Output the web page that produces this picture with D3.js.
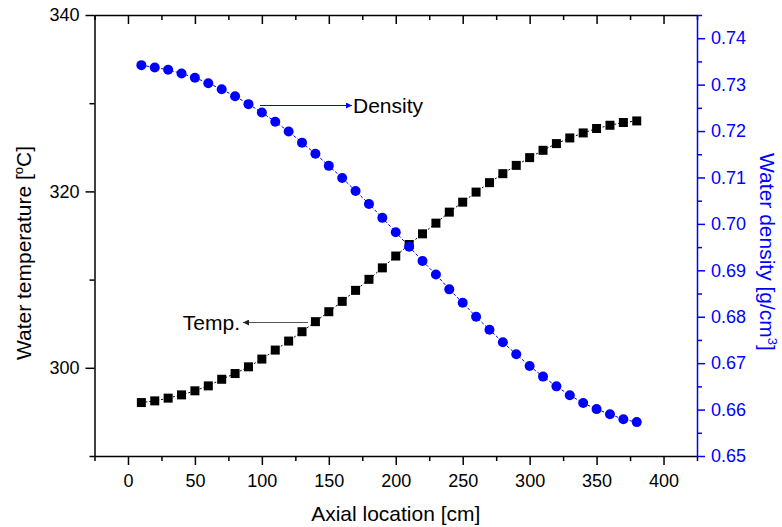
<!DOCTYPE html>
<html>
<head>
<meta charset="utf-8">
<script src="https://cdn.jsdelivr.net/npm/d3@7/dist/d3.min.js"></script>
<style>
  body { margin: 0; background: #fff; }
  svg text { font-family: "Liberation Sans", Arial, sans-serif; }
</style>
</head>
<body>
<div id="chart"></div>
<script>
// axial positions [cm]
var location_cm = [10, 20, 30, 40, 50, 60, 70, 80, 90, 100,
  110, 120, 130, 140, 150, 160, 170, 180, 190, 200,
  210, 220, 230, 240, 250, 260, 270, 280, 290, 300,
  310, 320, 330, 340, 350, 360, 370, 380];

// water temperature [oC]
var temperature = [296.06, 296.25, 296.56, 296.93, 297.39, 297.95, 298.70, 299.35, 300.11, 300.99,
  302.01, 303.03, 304.09, 305.23, 306.36, 307.53, 308.78, 310.03, 311.33, 312.67,
  313.98, 315.19, 316.40, 317.65, 318.78, 319.92, 320.99, 322.01, 322.95, 323.83,
  324.66, 325.42, 326.06, 326.63, 327.13, 327.50, 327.81, 327.99];

// water density [g/cm3]
var density = [0.7342, 0.7337, 0.7332, 0.7324, 0.7315, 0.7303, 0.7290, 0.7275, 0.7258, 0.7240,
  0.7220, 0.7199, 0.7175, 0.7151, 0.7125, 0.7099, 0.7071, 0.7043, 0.7013, 0.6982,
  0.6951, 0.6920, 0.6891, 0.6859, 0.6830, 0.6800, 0.6772, 0.6745, 0.6719, 0.6694,
  0.6671, 0.6650, 0.6631, 0.6614, 0.6601, 0.6590, 0.6579, 0.6573];

var xMajor = [0, 50, 100, 150, 200, 250, 300, 350, 400];
var xMinor = [-25, 25, 75, 125, 175, 225, 275, 325, 375, 425];
var tMajor = [300, 320, 340];
var tMinor = [290, 310, 330];
var dMajor = [0.65, 0.66, 0.67, 0.68, 0.69, 0.70, 0.71, 0.72, 0.73, 0.74];
var dMinor = [0.655, 0.665, 0.675, 0.685, 0.695, 0.705, 0.715, 0.725, 0.735, 0.745];

var W = 782, H = 527;
var plotL = 94.5, plotR = 697, plotT = 15, plotB = 456;
var blue = "#0000ff";

var svg = d3.select("#chart").append("svg")
  .attr("width", W).attr("height", H);

var x = d3.scaleLinear().domain([-25, 425]).range([plotL, plotR]);
var yT = d3.scaleLinear().domain([290, 340]).range([plotB, plotT]);
var yD = d3.scaleLinear().domain([0.65, 0.745]).range([plotB, plotT]);

function styleAxis(g, color) {
  g.selectAll("path, line").attr("stroke", color).attr("stroke-width", 1.5);
  g.selectAll("text").attr("fill", color).attr("font-size", 18);
}

// bottom axis
var gb = svg.append("g").attr("transform", "translate(0," + plotB + ")");
gb.call(d3.axisBottom(x).tickValues(xMajor).tickSizeInner(9).tickSizeOuter(0).tickPadding(9));
gb.append("g").call(d3.axisBottom(x).tickValues(xMinor).tickSize(5).tickFormat(""))
  .select(".domain").remove();
styleAxis(gb, "#000");

// top axis (ticks point into the plot)
var gt = svg.append("g").attr("transform", "translate(0," + plotT + ")");
gt.call(d3.axisTop(x).tickValues(xMajor).tickSizeInner(-9).tickSizeOuter(0).tickFormat(""));
gt.append("g").call(d3.axisTop(x).tickValues(xMinor).tickSize(-5).tickFormat(""))
  .select(".domain").remove();
styleAxis(gt, "#000");

// left axis
var gl = svg.append("g").attr("transform", "translate(" + plotL + ",0)");
gl.call(d3.axisLeft(yT).tickValues(tMajor).tickSizeInner(9).tickSizeOuter(0).tickPadding(6));
gl.append("g").call(d3.axisLeft(yT).tickValues(tMinor).tickSize(5).tickFormat(""))
  .select(".domain").remove();
styleAxis(gl, "#000");

// right axis
var gr = svg.append("g").attr("transform", "translate(" + plotR + ",0)");
gr.call(d3.axisRight(yD).tickValues(dMajor).tickSizeInner(8).tickSizeOuter(0).tickPadding(6)
  .tickFormat(d3.format(".2f")));
gr.append("g").call(d3.axisRight(yD).tickValues(dMinor).tickSize(5).tickFormat(""))
  .select(".domain").remove();
styleAxis(gr, blue);

// series lines
var tempLine = d3.line().x(function(d, i) { return x(location_cm[i]); })
  .y(function(d) { return yT(d); });
var densLine = d3.line().x(function(d, i) { return x(location_cm[i]); })
  .y(function(d) { return yD(d); });

svg.append("path").attr("d", tempLine(temperature))
  .attr("fill", "none").attr("stroke", "#000").attr("stroke-width", 1)
  .attr("stroke-dasharray", "2,2");
svg.append("path").attr("d", densLine(density))
  .attr("fill", "none").attr("stroke", blue).attr("stroke-width", 1)
  .attr("stroke-dasharray", "3,2");

// markers
var sq = 9;
svg.append("g").selectAll("rect")
  .data(temperature)
  .enter()
  .append("rect")
  .attr("x", function(d, i) { return x(location_cm[i]) - sq / 2; })
  .attr("y", function(d) { return yT(d) - sq / 2; })
  .attr("width", sq).attr("height", sq)
  .attr("fill", "#000");

svg.append("g").selectAll("circle")
  .data(density)
  .enter()
  .append("circle")
  .attr("cx", function(d, i) { return x(location_cm[i]); })
  .attr("cy", function(d) { return yD(d); })
  .attr("r", 5)
  .attr("fill", blue);

// annotations with arrows
var defs = svg.append("defs");
function marker(id, color) {
  defs.append("marker").attr("id", id)
    .attr("viewBox", "0 0 10 10").attr("refX", 10).attr("refY", 5)
    .attr("markerWidth", 10).attr("markerHeight", 6).attr("orient", "auto")
    .attr("markerUnits", "userSpaceOnUse")
    .append("path").attr("d", "M0,0 L10,5 L0,10 z").attr("fill", color);
}
marker("arrBlue", blue);
marker("arrBlack", "#222");

svg.append("line").attr("x1", 260).attr("y1", 105.5).attr("x2", 352).attr("y2", 105.5)
  .attr("stroke", blue).attr("stroke-width", 1).attr("marker-end", "url(#arrBlue)");
svg.append("text").attr("x", 353).attr("y", 113).attr("font-size", 21).text("Density");

svg.append("line").attr("x1", 308).attr("y1", 322.5).attr("x2", 243).attr("y2", 322.5)
  .attr("stroke", "#555").attr("stroke-width", 1).attr("marker-end", "url(#arrBlack)");
svg.append("text").attr("x", 240).attr("y", 329.5).attr("text-anchor", "end")
  .attr("font-size", 21).text("Temp.");

// axis titles
svg.append("text").attr("x", (plotL + plotR) / 2).attr("y", 521)
  .attr("text-anchor", "middle").attr("font-size", 21).text("Axial location [cm]");

var lt = svg.append("text")
  .attr("transform", "translate(31,253) rotate(-90)")
  .attr("text-anchor", "middle").attr("font-size", 21);
lt.append("tspan").text("Water temperature [");
lt.append("tspan").attr("font-size", 13).attr("dy", -8).text("o");
lt.append("tspan").attr("dy", 8).text("C]");

var rt = svg.append("text")
  .attr("transform", "translate(760,252) rotate(90)")
  .attr("text-anchor", "middle").attr("font-size", 21).attr("fill", blue);
rt.append("tspan").text("Water density [g/cm");
rt.append("tspan").attr("font-size", 13).attr("dy", -8).text("3");
rt.append("tspan").attr("dy", 8).text("]");
</script>
</body>
</html>
